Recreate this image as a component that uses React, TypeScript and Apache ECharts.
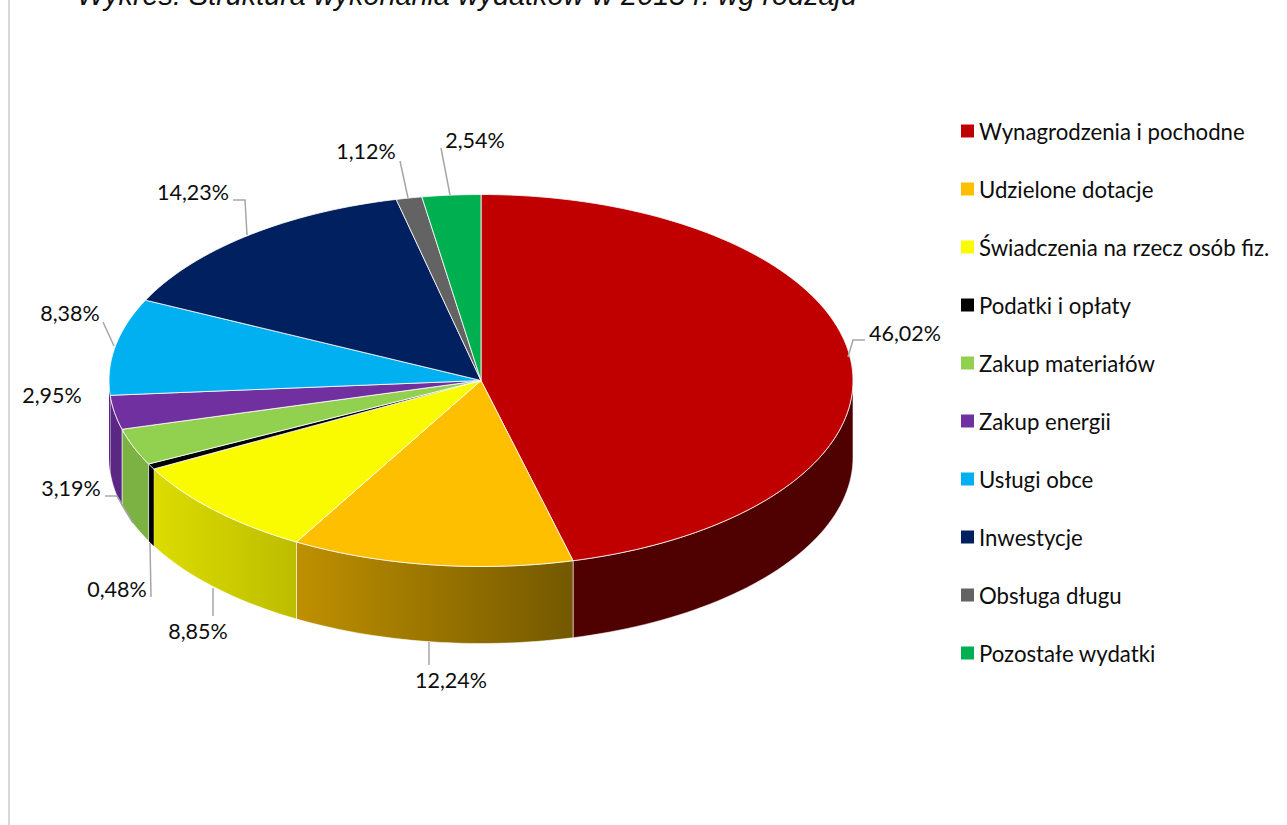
import React, { useEffect, useRef } from "react";
import * as echarts from "echarts";

const titleText = "Wykres: Struktura wykonania wydatków w 2015 r. wg rodzaju";
const categories = [
  "Wynagrodzenia i pochodne",
  "Udzielone dotacje",
  "Świadczenia na rzecz osób fiz.",
  "Podatki i opłaty",
  "Zakup materiałów",
  "Zakup energii",
  "Usługi obce",
  "Inwestycje",
  "Obsługa długu",
  "Pozostałe wydatki",
];
const values = [46.02, 12.24, 8.85, 0.48, 3.19, 2.95, 8.38, 14.23, 1.12, 2.54];
const labelTexts = ["46,02%", "12,24%", "8,85%", "0,48%", "3,19%", "2,95%", "8,38%", "14,23%", "1,12%", "2,54%"];

const topColors = ["#c00000", "#fdbf00", "#fbfb00", "#000000", "#92d050", "#7030a0", "#00b0f0", "#002060", "#636363", "#00b050"];
const wallColors: [string, string][] = [
  ["#4f0000", "#4f0000"],
  ["#bf9000", "#735800"],
  ["#dcdc00", "#bdbd00"],
  ["#000000", "#000000"],
  ["#7cb143", "#7cb143"],
  ["#5a2785", "#5a2785"],
  ["#5a2785", "#5a2785"],
  ["#001a50", "#001a50"],
  ["#505050", "#505050"],
  ["#009040", "#009040"],
];

// Annotation layout: label centre and leader line (page pixels), kept apart from the data.
const labelPos: [number, number][] = [
  [905, 333], [451, 680], [198, 631], [117, 589], [71, 488], [52, 395], [70, 313], [193, 192], [366, 151], [475, 140],
];
const leaders: [number, number][][] = [
  [[848, 357], [853, 340], [865, 340]],
  [[429, 642], [429, 665]],
  [[213, 588], [213, 616]],
  [[150, 543], [151, 597]],
  [[105, 496], [117, 496], [133, 523]],
  [],
  [[103, 322], [114, 346]],
  [[233, 200], [245, 200], [247, 235]],
  [[400, 161], [408, 198]],
  [[441, 148], [450, 195]],
];

const CX = 481;
const CY = 380.5;
const RX = 372;
const RY = 186;
const DEPTH = 77;
const FONT = "Lato";

const total = values.reduce((a, b) => a + b, 0);
const rim = (deg: number, drop = 0): [number, number] => {
  const t = (deg * Math.PI) / 180;
  return [CX + RX * Math.sin(t), CY - RY * Math.cos(t) + drop];
};
const arc = (from: number, to: number, drop = 0) => {
  const n = Math.max(2, Math.ceil((to - from) / 1.5));
  const pts: [number, number][] = [];
  for (let i = 0; i <= n; i++) pts.push(rim(from + ((to - from) * i) / n, drop));
  return pts;
};

function renderSlice(params: any, api: any) {
  const idx = params.seriesIndex as number;
  const before = values.slice(0, idx).reduce((a, b) => a + b, 0);
  const start = (before / total) * 360;
  const end = start + (Number(api.value(0)) / total) * 360;
  const children: any[] = [];

  const wFrom = Math.max(start, 90);
  const wTo = Math.min(end, 270);
  if (wTo > wFrom) {
    const lower = arc(wFrom, wTo);
    const upper = arc(wFrom, wTo, DEPTH).reverse();
    children.push({
      type: "polygon",
      shape: { points: [...lower, ...upper] },
      style: {
        fill: new echarts.graphic.LinearGradient(0, 0, 1, 0, [
          { offset: 0, color: wallColors[idx][0] },
          { offset: 1, color: wallColors[idx][1] },
        ]),
        stroke: idx === 3 || idx === 6 ? "none" : "rgba(255,255,255,0.55)",
        lineWidth: 1,
      },
      z2: 1,
    });
  }
  children.push({
    type: "polygon",
    shape: { points: [[CX, CY], ...arc(start, end)] },
    style: { fill: topColors[idx], stroke: "rgba(255,255,255,0.8)", lineWidth: 1 },
    z2: 2,
  });
  if (leaders[idx].length) {
    children.push({
      type: "polyline",
      shape: { points: leaders[idx] },
      style: { fill: "none", stroke: "#a6a6a6", lineWidth: 1.5 },
      z2: 5,
    });
  }
  children.push({
    type: "text",
    style: {
      text: labelTexts[idx],
      x: labelPos[idx][0],
      y: labelPos[idx][1],
      align: "center",
      verticalAlign: "middle",
      fill: "#0d0d0d",
      fontFamily: FONT,
      fontSize: 21.5,
    },
    z2: 6,
  });
  return { type: "group", children };
}

export default function App() {
  const ref = useRef<HTMLDivElement>(null);
  useEffect(() => {
    const chart = echarts.init(ref.current!, undefined, { renderer: "svg" });
    chart.setOption({
      animation: false,
      backgroundColor: "#ffffff",
      graphic: [
        { type: "line", shape: { x1: 9, y1: 0, x2: 9, y2: 825 }, style: { stroke: "#d9d9d9", lineWidth: 2 } },
        {
          type: "text",
          x: 77,
          y: -5.5,
          style: {
            text: titleText,
            fontFamily: "Liberation Sans",
            fontStyle: "italic",
            fontSize: 28.8,
            fill: "#111111",
            verticalAlign: "middle",
          },
        },
      ],
      legend: {
        orient: "vertical",
        left: 961,
        top: 119,
        icon: "rect",
        itemWidth: 13,
        itemHeight: 13,
        itemGap: 34,
        padding: 0,
        data: categories,
        textStyle: { fontFamily: FONT, fontSize: 22.2, color: "#0d0d0d", lineHeight: 24 },
      },
      series: categories.map((name, i) => ({
        type: "custom",
        name,
        coordinateSystem: "none",
        renderItem: renderSlice,
        data: [values[i]],
        itemStyle: { color: topColors[i] },
        silent: true,
      })),
    });
    return () => chart.dispose();
  }, []);
  return <div ref={ref} style={{ position: "absolute", left: 0, top: 0, width: 1287, height: 825 }} />;
}
